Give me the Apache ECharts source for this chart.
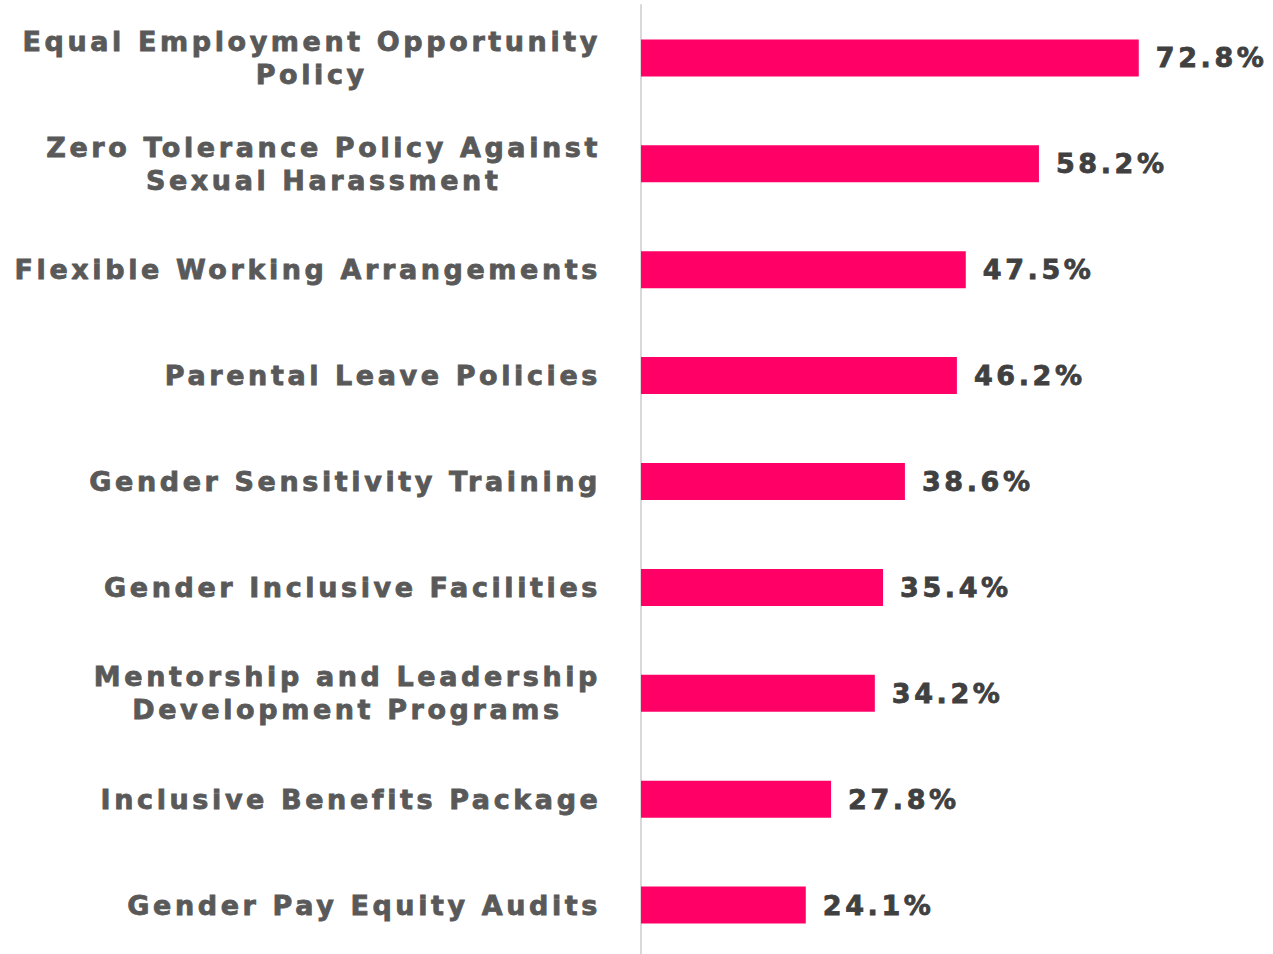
<!DOCTYPE html>
<html>
<head>
<meta charset="utf-8">
<script src="https://cdn.jsdelivr.net/npm/echarts@6/dist/echarts.min.js"></script>
<style>
  html, body { margin: 0; padding: 0; background: #fff; }
  #main { width: 1273px; height: 954px; letter-spacing: 3.6px; }
</style>
</head>
<body>
<div id="main"></div>
<script>
var categories = [
  "Equal Employment Opportunity\nPolicy",
  "Zero Tolerance Policy Against\nSexual Harassment",
  "Flexible Working Arrangements",
  "Parental Leave Policies",
  "Gender Sensitivity Training",
  "Gender Inclusive Facilities",
  "Mentorship and Leadership\nDevelopment Programs",
  "Inclusive Benefits Package",
  "Gender Pay Equity Audits"
];
var values = [72.8, 58.2, 47.5, 46.2, 38.6, 35.4, 34.2, 27.8, 24.1];

// the text is drawn with css letter-spacing, so measure it the same way
var spacing = 3.6;
var measureCtx = document.createElement("canvas").getContext("2d");
echarts.setPlatformAPI({
  measureText: function (text, font) {
    measureCtx.font = font || "12px sans-serif";
    var w = measureCtx.measureText(text).width;
    return { width: w + spacing * String(text).length };
  }
});

var chartDom = document.getElementById("main");
var myChart = echarts.init(chartDom, null, { renderer: "svg" });
var option;

option = {
  animation: false,
  grid: {
    left: 641,
    right: 85,
    top: 5,
    bottom: -4,
    outerBoundsMode: "none",
    containLabel: false
  },
  xAxis: {
    type: "value",
    min: 0,
    max: 80,
    show: false
  },
  yAxis: {
    type: "category",
    inverse: true,
    data: categories,
    axisLine: { show: true, lineStyle: { color: "#d9d9d9", width: 2 } },
    axisTick: { show: false },
    axisLabel: {
      margin: 40,
      align: "right",
      formatter: function (v) {
        return v.split("\n").map(function (s) { return "{a|" + s + "}"; }).join("\n");
      },
      rich: {
        a: {
          align: "center",
          fontFamily: "DejaVu Sans",
          fontWeight: "bold",
          fontSize: 27,
          lineHeight: 33,
          color: "#595959",
          textBorderColor: "#595959",
          textBorderWidth: 0.8
        }
      }
    }
  },
  series: [
    {
      type: "bar",
      data: values,
      barWidth: 37,
      itemStyle: { color: "#ff0066" },
      label: {
        show: true,
        position: "right",
        distance: 17,
        formatter: "{c}%",
        fontFamily: "DejaVu Sans",
        fontWeight: "bold",
        fontSize: 27,
        color: "#404040",
        textBorderColor: "#404040",
        textBorderWidth: 0.8
      }
    }
  ]
};

option && myChart.setOption(option);
</script>
</body>
</html>
